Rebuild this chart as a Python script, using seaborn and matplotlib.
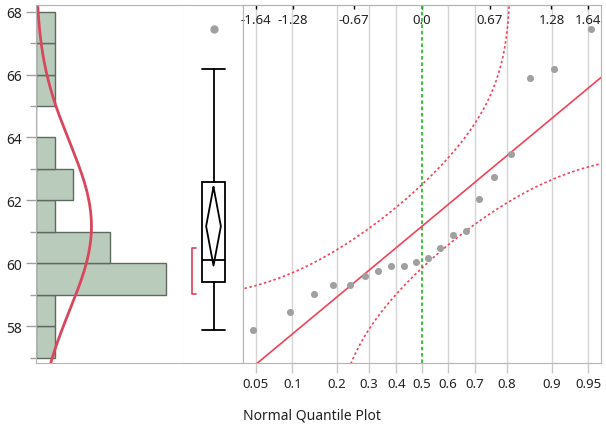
import numpy as np
import pandas as pd
import matplotlib
matplotlib.use('Agg')
import matplotlib.pyplot as plt
import seaborn as sns
from statistics import NormalDist

values = [57.89, 58.46, 59.03, 59.32, 59.32, 59.60, 59.74, 59.90, 59.90, 60.03,
          60.17, 60.47, 60.89, 61.03, 62.04, 62.75, 63.47, 65.89, 66.18, 67.46]
hist_bins = [57, 58, 59, 60, 61, 62, 63, 64, 65, 66, 67, 68]
y_ticks = [58, 60, 62, 64, 66, 68]
y_minor = [57, 59, 61, 63, 65, 67]
prob_ticks = [0.05, 0.1, 0.2, 0.3, 0.4, 0.5, 0.6, 0.7, 0.8, 0.9, 0.95]
prob_labels = ['0.05', '0.1', '0.2', '0.3', '0.4', '0.5', '0.6', '0.7', '0.8', '0.9', '0.95']
z_ticks = [-1.64, -1.28, -0.67, 0.0, 0.67, 1.28, 1.64]
z_labels = ['-1.64', '-1.28', '-0.67', '0.0', '0.67', '1.28', '1.64']
lillie_d = 0.19   # Lilliefors 5% critical value for n=20
t_crit = 2.093    # t(0.975, 19)

sns.set_style('white')
plt.rcParams['font.family'] = ['Noto Sans', 'DejaVu Sans']
plt.rcParams['text.color'] = '#222222'
plt.rcParams['xtick.labelcolor'] = '#222222'
plt.rcParams['ytick.labelcolor'] = '#222222'

nd = NormalDist()
n = len(values)
mean = np.mean(values)
sd = np.std(values, ddof=1)
df = pd.DataFrame({'y': values})
df['z'] = [nd.inv_cdf((i + 1) / (n + 1)) for i in range(n)]

fig = plt.figure(figsize=(6.06, 4.27), dpi=100)
bot = 63 / 427
hgt = 358 / 427
ax_h = fig.add_axes([36 / 606, bot, 148 / 606, hgt])
ax_b = fig.add_axes([184 / 606, bot, 59 / 606, hgt], sharey=ax_h)
ax_q = fig.add_axes([243 / 606, bot, 358 / 606, hgt], sharey=ax_h)
ax_h.set_ylim(56.83, 68.21)

frame = '#B4B4B4'

# histogram + fitted normal
sns.histplot(data=df, y='y', bins=hist_bins, color='#B9CBBA', edgecolor='#5E6A5F',
             linewidth=1, alpha=1, ax=ax_h)
yy = np.linspace(56.7, 68.4, 300)
dens = np.array([nd.pdf((v - mean) / sd) / sd for v in yy]) * n
ax_h.plot(dens, yy, color='#D8475C', lw=2)
ax_h.set_xlim(0, 7.97)
ax_h.set_xlabel('')
ax_h.set_ylabel('')
ax_h.set_xticks([])
ax_h.set_yticks(y_ticks)
ax_h.set_yticks(y_minor, minor=True)
ax_h.tick_params(axis='y', which='major', left=True, length=7, width=1, color='#A0A0A0',
                 labelsize=10, pad=3)
ax_h.tick_params(axis='y', which='minor', left=True, length=4, width=1, color='#A0A0A0')
for s in ['left', 'top', 'bottom']:
    ax_h.spines[s].set_color(frame)
ax_h.spines['right'].set_color('#D8D8D8')

# outlier box plot
q1, med, q3 = np.percentile(values, [25, 50, 75], method='weibull')
iqr = q3 - q1
inside = [v for v in values if q1 - 1.5 * iqr <= v <= q3 + 1.5 * iqr]
fliers = [v for v in values if v not in inside]
stats = [dict(med=med, q1=q1, q3=q3, whislo=min(inside), whishi=max(inside), fliers=fliers)]
ax_b.bxp(stats, positions=[0.5], widths=0.395, capwidths=0.395, patch_artist=True,
         boxprops=dict(facecolor='white', edgecolor='black', lw=1.3),
         whiskerprops=dict(color='black', lw=1.3), capprops=dict(color='black', lw=1.3),
         medianprops=dict(color='black', lw=1.3),
         flierprops=dict(marker='o', markerfacecolor='#A0A0A0', markeredgecolor='none',
                         markersize=6))
ci = t_crit * sd / np.sqrt(n)
ax_b.plot([0.5, 0.375, 0.5, 0.625, 0.5], [mean + ci, mean, mean - ci, mean, mean + ci],
          color='black', lw=1.3)
# shortest half bracket
k = n // 2
srt = sorted(values)
i0 = min(range(n - k + 1), key=lambda i: srt[i + k - 1] - srt[i])
lo, hi = srt[i0], srt[i0 + k - 1]
ax_b.plot([0.203, 0.136, 0.136, 0.203], [hi, hi, lo, lo], color='#E0415B', lw=1.2)
ax_b.set_xlim(0, 1)
ax_b.set_xticks([])
ax_b.tick_params(axis='y', left=False, labelleft=False)
ax_b.spines['left'].set_visible(False)
ax_b.spines['top'].set_color(frame)
ax_b.spines['bottom'].set_color(frame)
ax_b.spines['right'].set_color('#A0A0A0')

# normal quantile plot
ax_q.set_xlim(-1.77, 1.77)
for p in prob_ticks:
    if p != 0.5:
        ax_q.axvline(nd.inv_cdf(p), color='#D4D4D4', lw=1, zorder=0)
ax_q.axvline(0, color='#2DBE2D', lw=1.3, ls=(0, (2, 1.5)), zorder=1)
zz = np.linspace(-1.9, 1.9, 800)
ax_q.plot(zz, mean + sd * zz, color='#F0435A', lw=1.2)
cdf = np.array([nd.cdf(z) for z in zz])
up = np.array([mean + sd * nd.inv_cdf(p) if p < 0.999999 else np.nan for p in cdf + lillie_d])
dn = np.array([mean + sd * nd.inv_cdf(p) if p > 0.000001 else np.nan for p in cdf - lillie_d])
ax_q.plot(zz, up, color='#F0435A', lw=1.2, ls=(0, (1.5, 1.5)))
ax_q.plot(zz, dn, color='#F0435A', lw=1.2, ls=(0, (1.5, 1.5)))
sns.scatterplot(data=df, x='z', y='y', color='#A0A0A0', s=26, linewidth=0, ax=ax_q, zorder=3)
ax_q.set_xlabel('')
ax_q.set_ylabel('')
ax_q.set_xticks([nd.inv_cdf(p) for p in prob_ticks], prob_labels)
ax_q.tick_params(axis='x', bottom=True, length=7, width=1, color='#C8C8C8', labelsize=9.5, pad=3)
ax_q.tick_params(axis='y', left=False, labelleft=False)
for s in ax_q.spines.values():
    s.set_color(frame)
top = ax_q.secondary_xaxis('top')
top.set_xticks(z_ticks, z_labels)
top.tick_params(direction='in', length=3, width=1, color='black', labelsize=9.5, pad=-15)
top.spines['top'].set_color(frame)

fig.text(243 / 606, 1 - 416 / 427, 'Normal Quantile Plot', ha='left', va='center', fontsize=10)

fig.savefig('out.png', dpi=100)
